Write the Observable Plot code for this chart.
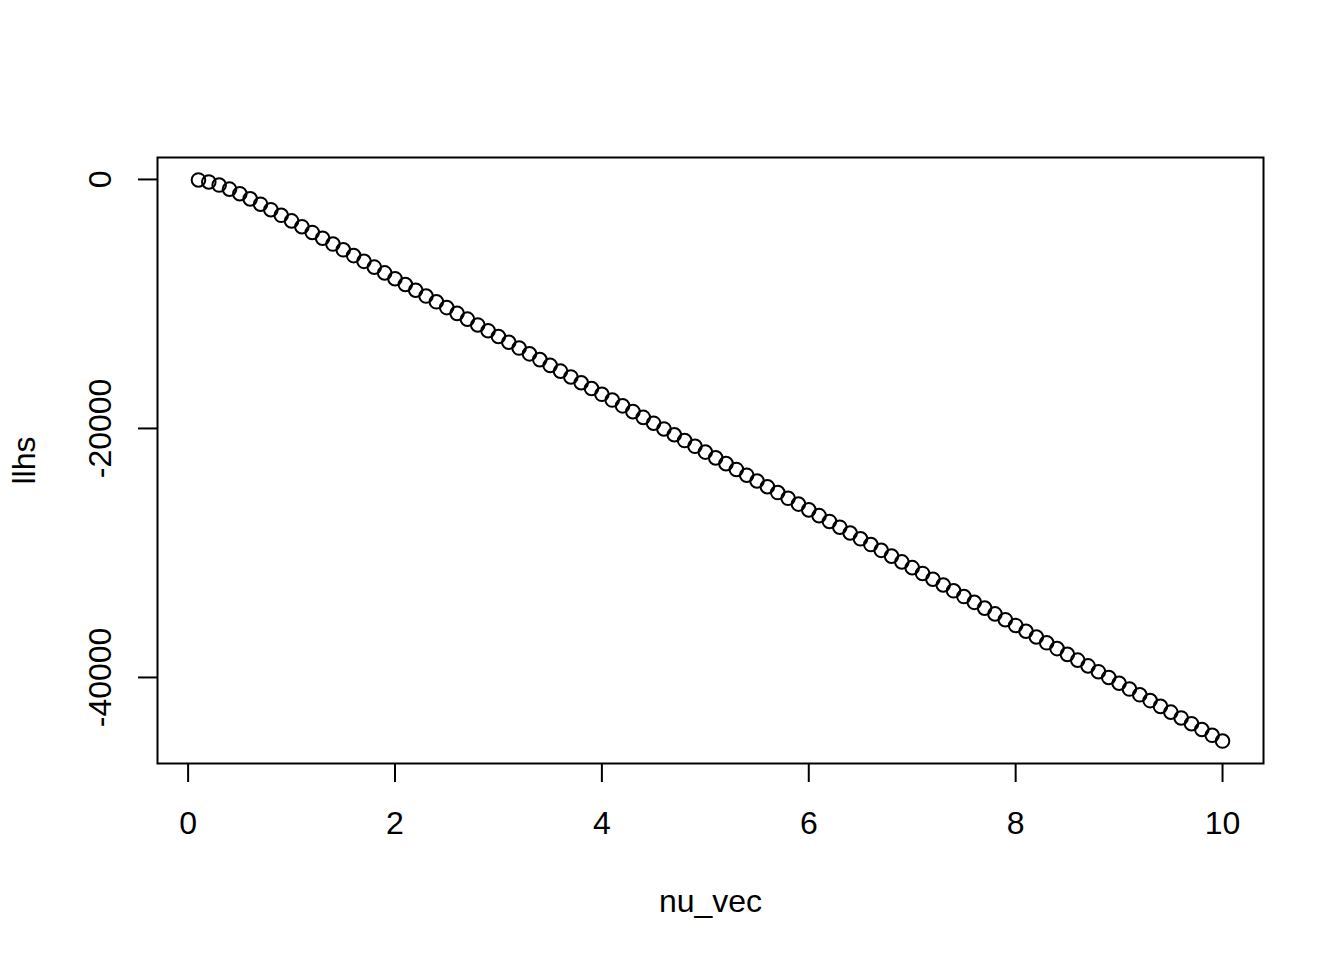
<!DOCTYPE html>
<html>
<head>
<meta charset="utf-8">
<script src="https://cdn.jsdelivr.net/npm/d3@7"></script>
<script src="https://cdn.jsdelivr.net/npm/@observablehq/plot@0.6"></script>
<style>
  html, body { margin: 0; padding: 0; background: #fff; }
  #chart svg { display: block; }
</style>
</head>
<body>
<div id="chart"></div>
<script>
const nu_vec = [0.1,0.2,0.3,0.4,0.5,0.6,0.7,0.8,0.9,1.0,
  1.1,1.2,1.3,1.4,1.5,1.6,1.7,1.8,1.9,2.0,
  2.1,2.2,2.3,2.4,2.5,2.6,2.7,2.8,2.9,3.0,
  3.1,3.2,3.3,3.4,3.5,3.6,3.7,3.8,3.9,4.0,
  4.1,4.2,4.3,4.4,4.5,4.6,4.7,4.8,4.9,5.0,
  5.1,5.2,5.3,5.4,5.5,5.6,5.7,5.8,5.9,6.0,
  6.1,6.2,6.3,6.4,6.5,6.6,6.7,6.8,6.9,7.0,
  7.1,7.2,7.3,7.4,7.5,7.6,7.7,7.8,7.9,8.0,
  8.1,8.2,8.3,8.4,8.5,8.6,8.7,8.8,8.9,9.0,
  9.1,9.2,9.3,9.4,9.5,9.6,9.7,9.8,9.9,10.0];

const llhs = [-40,-200,-450,-780,-1150,-1560,-1990,-2430,-2880,-3330,
  -3794,-4258,-4723,-5187,-5651,-6115,-6579,-7044,-7508,-7972,
  -8436,-8900,-9365,-9829,-10293,-10757,-11221,-11686,-12150,-12614,
  -13078,-13542,-14007,-14471,-14935,-15399,-15863,-16328,-16792,-17256,
  -17720,-18184,-18649,-19113,-19577,-20041,-20505,-20970,-21434,-21898,
  -22362,-22826,-23291,-23755,-24219,-24683,-25147,-25612,-26076,-26540,
  -27004,-27468,-27933,-28397,-28861,-29325,-29789,-30254,-30718,-31182,
  -31646,-32110,-32575,-33039,-33503,-33967,-34431,-34896,-35360,-35824,
  -36288,-36752,-37217,-37681,-38145,-38609,-39073,-39538,-40002,-40466,
  -40930,-41394,-41859,-42323,-42787,-43251,-43715,-44180,-44644,-45108];

const xTicks = [0, 2, 4, 6, 8, 10];
const xTickLabels = ["0", "2", "4", "6", "8", "10"];
const yTicks = [0, -20000, -40000];
const yTickLabels = ["0", "-20000", "-40000"];
const xTitle = "nu_vec";
const yTitle = "llhs";

const data = nu_vec.map((nu, i) => ({nu, llh: llhs[i]}));

// R-style 4% extension of the data ranges
const xmin = d3.min(nu_vec), xmax = d3.max(nu_vec);
const ymin = d3.min(llhs), ymax = d3.max(llhs);
const xpad = (xmax - xmin) * 0.04, ypad = (ymax - ymin) * 0.04;

const font = "'Liberation Sans', Arial, Helvetica, sans-serif";

const chart = Plot.plot({
  width: 1344,
  height: 960,
  marginLeft: 157,
  marginRight: 81,
  marginTop: 157,
  marginBottom: 197,
  style: {background: "#fff", fontFamily: font, fontSize: "32px", color: "black"},
  x: {domain: [xmin - xpad, xmax + xpad], nice: false, axis: null},
  y: {domain: [ymin - ypad, ymax + ypad], nice: false, axis: null},
  marks: [
    Plot.axisX(xTicks, {tickSize: 19, tickFormat: () => "", strokeWidth: 2, label: null}),
    Plot.axisY(yTicks, {tickSize: 19, tickFormat: () => "", strokeWidth: 2, label: null}),
    Plot.text(xTicks, {x: d => d, text: (d, i) => xTickLabels[i], frameAnchor: "bottom", dy: 60,
      lineAnchor: "middle", fontSize: 32, fill: "black"}),
    Plot.text(yTicks, {y: d => d, text: (d, i) => yTickLabels[i], frameAnchor: "left", dx: -57,
      rotate: -90, textAnchor: "middle", lineAnchor: "middle", fontSize: 32, fill: "black"}),
    Plot.text([xTitle], {text: d => d, frameAnchor: "bottom", dy: 138, lineAnchor: "middle",
      fontSize: 32, fill: "black"}),
    Plot.text([yTitle], {text: d => d, frameAnchor: "left", dx: -133, rotate: -90,
      textAnchor: "middle", lineAnchor: "middle", fontSize: 32, fill: "black"}),
    Plot.frame({stroke: "black", strokeWidth: 2}),
    Plot.dot(data, {x: "nu", y: "llh", r: 6.8, stroke: "black", strokeWidth: 2, fill: "none"})
  ]
});

document.getElementById("chart").appendChild(chart);
</script>
</body>
</html>
